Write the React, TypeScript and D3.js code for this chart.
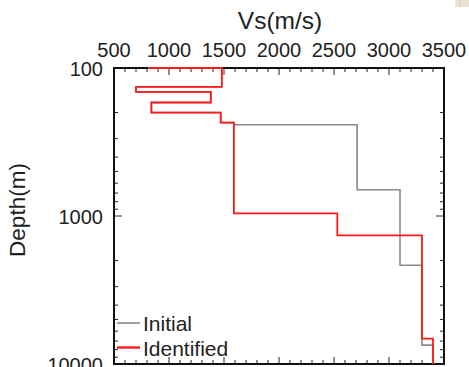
import React from "react"
import * as d3 from "d3"

// layer velocities (m/s) and the depth (m) at which each layer starts
const identifiedVs = [820, 1480, 700, 1380, 840, 1470, 1590, 2530, 3300, 3400]
const identifiedTop = [50, 100, 134, 145, 171, 200, 234, 960, 1353, 6730]

const initialVs = [820, 1480, 700, 1380, 840, 1470, 1590, 2710, 3100, 3300, 3400]
const initialTop = [50, 100, 134, 145, 171, 200, 234, 242, 665, 2154, 7460]

const bottomDepth = 20000
const xTickLabels = [500, 1000, 1500, 2000, 2500, 3000, 3500]
const yTickLabels = [100, 1000, 10000]
const legendItems = ["Initial", "Identified"]

const W = 469
const H = 367
const left = 114
const right = 444
const top = 68
const bottom = 364

const font = "'Liberation Sans', Arial, Helvetica, sans-serif"

const x = d3.scaleLinear().domain([500, 3500]).range([left, right])
const y = d3.scaleLog().domain([100, 10000]).range([top, bottom])

const stepPoints = (vs: number[], tops: number[]) => {
  const pts: [number, number][] = []
  vs.forEach((v, i) => {
    const d0 = tops[i]
    const d1 = i + 1 < tops.length ? tops[i + 1] : bottomDepth
    pts.push([v, d0], [v, d1])
  })
  return pts
}

const line = d3
  .line<[number, number]>()
  .x((d) => x(d[0]))
  .y((d) => y(d[1]))

export default function App() {
  const xMinor = d3.range(500, 3501, 100)
  const yMinor = y.ticks()
  const lineColors = ["#8a8a8a", "#ff1a1a"]

  return (
    <svg
      width={W}
      height={H}
      viewBox={`0 0 ${W} ${H}`}
      style={{ position: "absolute", left: 0, top: 0, background: "#fff" }}
    >
      <defs>
        <clipPath id="plot">
          <rect x={left} y={top - 1} width={right - left} height={bottom - top + 1} />
        </clipPath>
      </defs>

      <rect x={455} y={0} width={14} height={7} fill="#ece3d2" />
      <line x1={460} x2={460} y1={0} y2={7} stroke="#d8ccb4" />

      {/* ticks, pointing inward on every side */}
      <g stroke="#222" strokeWidth={1}>
        {xMinor.map((v) => {
          const len = v % 500 === 0 ? 7 : 4
          return (
            <g key={`x${v}`}>
              <line x1={x(v)} x2={x(v)} y1={top} y2={top + len} />
              <line x1={x(v)} x2={x(v)} y1={bottom} y2={bottom - len} />
            </g>
          )
        })}
        {yMinor.map((v) => {
          const major = yTickLabels.includes(v)
          const len = major ? 8 : 4
          return (
            <g key={`y${v}`} stroke={major ? "#999" : "#222"} strokeWidth={major ? 2 : 1}>
              <line x1={left} x2={left + len} y1={y(v)} y2={y(v)} />
              <line x1={right} x2={right - len} y1={y(v)} y2={y(v)} />
            </g>
          )
        })}
      </g>

      <rect
        x={left}
        y={top}
        width={right - left}
        height={bottom - top}
        fill="none"
        stroke="#111"
        strokeWidth={2}
      />

      <g clipPath="url(#plot)" fill="none" strokeLinejoin="miter">
        <path d={line(stepPoints(initialVs, initialTop)) ?? ""} stroke={lineColors[0]} strokeWidth={1.6} />
        <path d={line(stepPoints(identifiedVs, identifiedTop)) ?? ""} stroke={lineColors[1]} strokeWidth={1.8} />
      </g>

      <g fontFamily={font} fontSize={20} fill="#222">
        {xTickLabels.map((v) => (
          <text key={v} x={x(v)} y={57} textAnchor="middle">
            {v}
          </text>
        ))}
        {yTickLabels.map((v) => (
          <text key={v} x={103} y={y(v) + 8} textAnchor="end">
            {v}
          </text>
        ))}
      </g>

      <text
        x={280}
        y={29}
        textAnchor="middle"
        fontFamily={font}
        fontSize={24.5}
        fill="#222"
      >
        Vs(m/s)
      </text>
      <text
        transform="translate(25,210) rotate(-90)"
        textAnchor="middle"
        fontFamily={font}
        fontSize={22.5}
        fill="#222"
      >
        Depth(m)
      </text>

      <g fontFamily={font} fontSize={21} fill="#222">
        {legendItems.map((name, i) => (
          <g key={name} transform={`translate(0, ${323 + i * 24.5})`}>
            <line x1={117} x2={140} y1={0} y2={0} stroke={lineColors[i]} strokeWidth={i === 0 ? 1.6 : 2.4} />
            <text x={143} y={8}>
              {name}
            </text>
          </g>
        ))}
      </g>
    </svg>
  )
}
